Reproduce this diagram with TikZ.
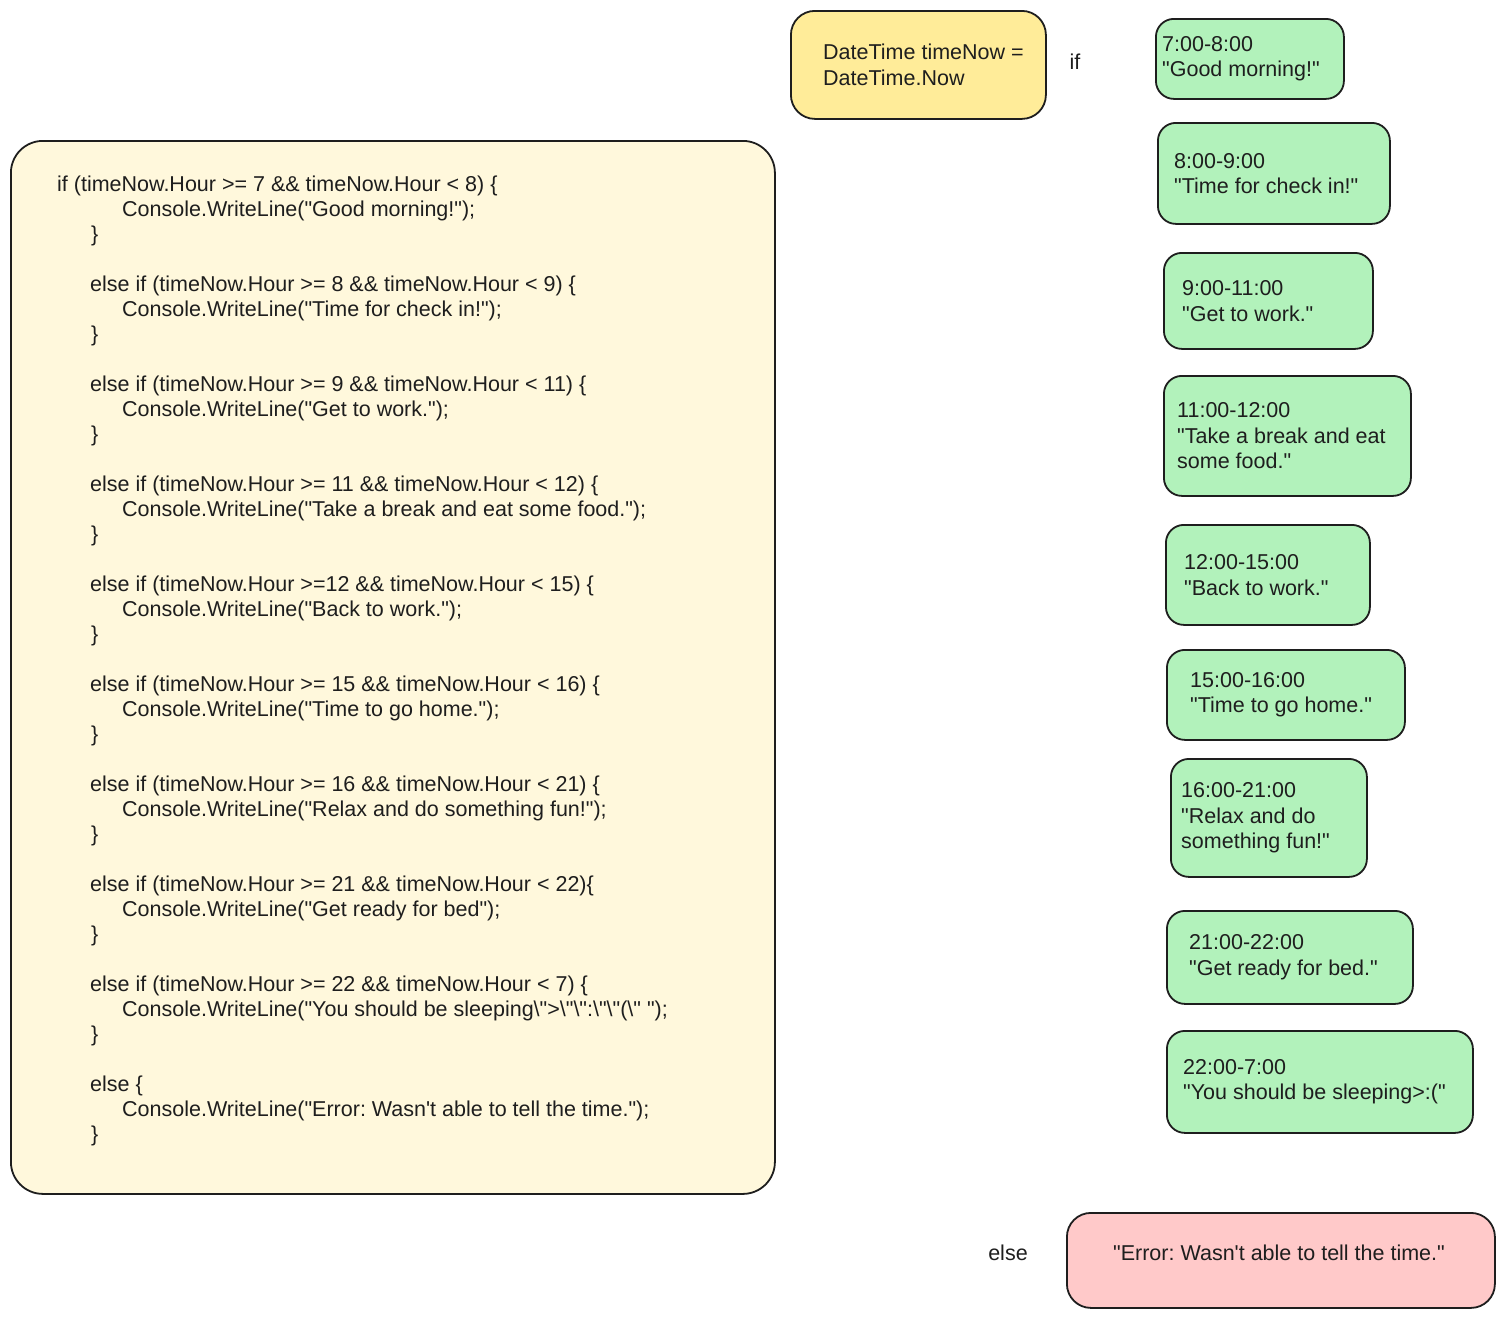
\documentclass[tikz,border=0pt]{standalone}
\usepackage{fontspec}
\setmainfont{Liberation Sans}
\usetikzlibrary{positioning}
\definecolor{inkgray}{RGB}{30,30,30}
\definecolor{notebg}{RGB}{255,248,220}
\definecolor{declyellow}{RGB}{255,236,153}
\definecolor{slotgreen}{RGB}{178,242,187}
\definecolor{errpink}{RGB}{255,201,201}
\newcommand{\qt}{\textquotedbl}
\newcommand{\bs}{\textbackslash}
\frenchspacing

\begin{document}
\begin{tikzpicture}[x=1pt, y=-1pt, font=\fontsize{21.5}{25.5}\selectfont, text=inkgray,
  box/.style={draw=inkgray, line width=1.8pt, rounded corners=18pt, anchor=north west, inner sep=0pt},
  codeline/.style={anchor=west, inner sep=0pt},
  slottext/.style={anchor=west, align=left, inner sep=0pt}]
\useasboundingbox (0,0) rectangle (1503,1317);
% code listing
\node[box, fill=notebg, rounded corners=32pt, minimum width=764pt, minimum height=1053pt] (code) at (10,140) {};
\foreach \k/\hx/\h/\b in {
  0/57/{if (timeNow.Hour >= 7 \&\& timeNow.Hour < 8) \{}/{Console.WriteLine(\qt Good morning!\qt);},
  1/90/{else if (timeNow.Hour >= 8 \&\& timeNow.Hour < 9) \{}/{Console.WriteLine(\qt Time for check in!\qt);},
  2/90/{else if (timeNow.Hour >= 9 \&\& timeNow.Hour < 11) \{}/{Console.WriteLine(\qt Get to work.\qt);},
  3/90/{else if (timeNow.Hour >= 11 \&\& timeNow.Hour < 12) \{}/{Console.WriteLine(\qt Take a break and eat some food.\qt);},
  4/90/{else if (timeNow.Hour >=12 \&\& timeNow.Hour < 15) \{}/{Console.WriteLine(\qt Back to work.\qt);},
  5/90/{else if (timeNow.Hour >= 15 \&\& timeNow.Hour < 16) \{}/{Console.WriteLine(\qt Time to go home.\qt);},
  6/90/{else if (timeNow.Hour >= 16 \&\& timeNow.Hour < 21) \{}/{Console.WriteLine(\qt Relax and do something fun!\qt);},
  7/90/{else if (timeNow.Hour >= 21 \&\& timeNow.Hour < 22)\{}/{Console.WriteLine(\qt Get ready for bed\qt);},
  8/90/{else if (timeNow.Hour >= 22 \&\& timeNow.Hour < 7) \{}/{Console.WriteLine(\qt You should be sleeping\bs\qt>\bs\qt\bs\qt:\bs\qt\bs\qt(\bs\qt{} \qt);},
  9/90/{else \{}/{Console.WriteLine(\qt Error: Wasn\textquotesingle t able to tell the time.\qt);}} {
  \node[codeline] (head\k) at (\hx, 186+100*\k) {\h};
  \node[codeline] (body\k) at (122, 211+100*\k) {\b};
  \node[codeline] (close\k) at (91, 236+100*\k) {\}};
}
% declaration
\node[box, fill=declyellow, rounded corners=24pt, minimum width=255pt, minimum height=108pt] (decl) at (790,10) {};
\node[slottext, right=33pt of decl.west] (decltxt) {DateTime timeNow =\\DateTime.Now};
\node (iflbl) at (1075,62) {if};
% time slots
\foreach \n/\x/\y/\w/\h/\s/\t in {
  1/1155/18/188/80/7/{7:00-8:00\\\qt Good morning!\qt},
  2/1157/122/232/101/17/{8:00-9:00\\\qt Time for check in!\qt},
  3/1163/252/209/96/19/{9:00-11:00\\\qt Get to work.\qt},
  4/1163/375/247/120/14/{11:00-12:00\\\qt Take a break and eat\\some food.\qt},
  5/1165/524/204/100/19/{12:00-15:00\\\qt Back to work.\qt},
  6/1166/649/238/90/24/{15:00-16:00\\\qt Time to go home.\qt},
  7/1170/758/196/118/11/{16:00-21:00\\\qt Relax and do\\something fun!\qt},
  8/1166/910/246/93/23/{21:00-22:00\\\qt Get ready for bed.\qt},
  9/1166/1030/306/102/17/{22:00-7:00\\\qt You should be sleeping>:(\qt}} {
  \node[box, fill=slotgreen, minimum width=\w pt, minimum height=\h pt] (slot\n) at (\x,\y) {};
  \node[slottext, right=\s pt of slot\n.west] (slottxt\n) {\t};
}
% fallback
\node (elselbl) at (1008,1253) {else};
\node[box, fill=errpink, rounded corners=24pt, minimum width=428pt, minimum height=95pt] (err) at (1066,1212) {};
\node (errtxt) at (1279,1253) {\qt Error: Wasn\textquotesingle t able to tell the time.\qt};
\end{tikzpicture}
\end{document}
